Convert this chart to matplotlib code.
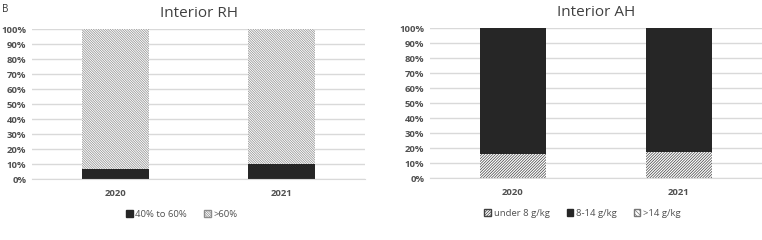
import numpy as np
import matplotlib.pyplot as plt
from matplotlib.patches import Patch

plt.rcParams['font.family'] = ['Open Sans', 'DejaVu Sans']
plt.rcParams['hatch.linewidth'] = 0.5

years = ['2020', '2021']
# Interior RH shares (fraction of time)
rh_40_60 = [0.065, 0.10]
rh_over_60 = [0.935, 0.90]
# Interior AH shares
ah_under_8 = [0.16, 0.175]
ah_8_14 = [0.84, 0.825]
ah_over_14 = [0.0, 0.0]

dark = '#262626'
grid_c = '#d9d9d9'
txt_c = '#505050'
h_rh = '\\' * 14
h_low = '/' * 12
h_high = '\\' * 8

fig = plt.figure(figsize=(7.62, 2.40), dpi=100)
ax1 = fig.add_axes([0.042, 0.254, 0.437, 0.625])
ax2 = fig.add_axes([0.564, 0.258, 0.436, 0.625])

x = np.arange(len(years))
w = 0.4

# left: RH
ax1.bar(x, rh_40_60, w, color=dark, edgecolor=dark, linewidth=0)
ax1.bar(x, rh_over_60, w, bottom=rh_40_60, color='white',
        edgecolor='#8c8c8c', hatch=h_rh, linewidth=0)

# right: AH
ax2.bar(x, ah_under_8, w, color='white', edgecolor='#404040',
        hatch=h_low, linewidth=0)
b2 = np.array(ah_under_8)
ax2.bar(x, ah_8_14, w, bottom=b2, color=dark, edgecolor=dark, linewidth=0)
b3 = b2 + np.array(ah_8_14)
ax2.bar(x, ah_over_14, w, bottom=b3, color='white', edgecolor='#777777',
        hatch=h_high, linewidth=0)

for ax, title in [(ax1, 'Interior RH'), (ax2, 'Interior AH')]:
    ax.set_xlim(-0.5, 1.5)
    ax.set_ylim(0, 1)
    ax.set_yticks(np.arange(0, 1.01, 0.1))
    ax.set_yticklabels([f'{int(round(v * 100))}%' for v in np.arange(0, 1.01, 0.1)])
    ax.set_xticks(x)
    ax.set_xticklabels(years)
    ax.grid(axis='y', color=grid_c, linewidth=1)
    ax.set_axisbelow(True)
    for s in ['top', 'right', 'left']:
        ax.spines[s].set_visible(False)
    ax.spines['bottom'].set_color(grid_c)
    ax.tick_params(length=0, labelsize=6.8, colors=txt_c, pad=4)
    for lab in ax.get_xticklabels() + ax.get_yticklabels():
        lab.set_fontweight('bold')
    ax.tick_params(axis='x', pad=7)
    ax.set_title(title, fontsize=11, color='#404040', pad=9)

h1 = [Patch(facecolor=dark, edgecolor=dark, label='40% to 60%'),
      Patch(facecolor='white', edgecolor='#8c8c8c', hatch=h_rh, label='>60%')]
ax1.legend(handles=h1, loc='upper center', bbox_to_anchor=(0.45, -0.15), ncol=2,
           frameon=False, fontsize=6.8, handlelength=0.7, handleheight=0.7,
           handletextpad=0.3, columnspacing=1.8, labelcolor=txt_c)

h2 = [Patch(facecolor='white', edgecolor='#404040', hatch=h_low, label='under 8 g/kg'),
      Patch(facecolor=dark, edgecolor=dark, label='8-14 g/kg'),
      Patch(facecolor='white', edgecolor='#777777', hatch=h_high, label='>14 g/kg')]
ax2.legend(handles=h2, loc='upper center', bbox_to_anchor=(0.46, -0.15), ncol=3,
           frameon=False, fontsize=6.8, handlelength=0.7, handleheight=0.7,
           handletextpad=0.3, columnspacing=1.8, labelcolor=txt_c)

fig.text(0.003, 0.985, 'B', fontsize=7, va='top', ha='left', color='#333333')

plt.savefig('out.png', dpi=100)
